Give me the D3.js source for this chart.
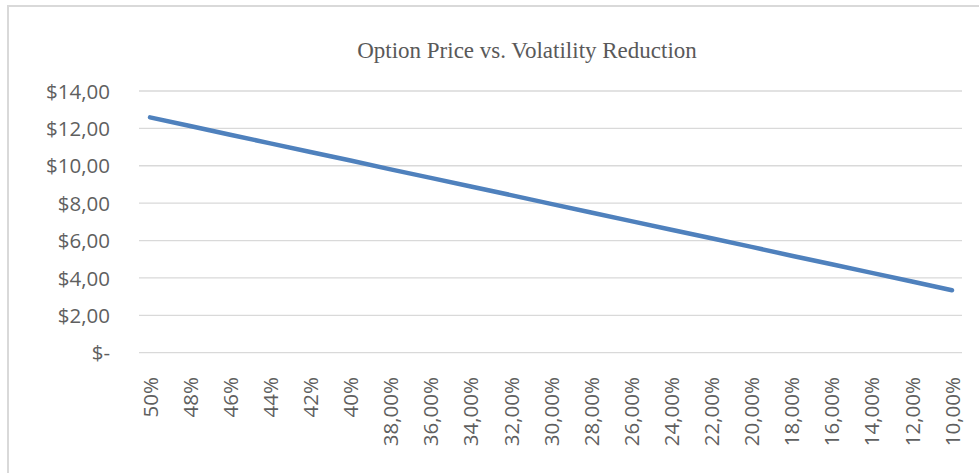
<!DOCTYPE html>
<html>
<head>
<meta charset="utf-8">
<script src="https://cdn.jsdelivr.net/npm/d3@7"></script>
<style>
  html, body { margin: 0; padding: 0; background: #ffffff; }
  svg { display: block; }
</style>
</head>
<body>
<div id="chart"></div>
<script>
const title = "Option Price vs. Volatility Reduction";
const categories = ["50%", "48%", "46%", "44%", "42%", "40%", "38,00%", "36,00%", "34,00%", "32,00%",
  "30,00%", "28,00%", "26,00%", "24,00%", "22,00%", "20,00%", "18,00%", "16,00%", "14,00%", "12,00%", "10,00%"];
const optionPrice = [12.59, 12.13, 11.66, 11.20, 10.74, 10.28, 9.81, 9.35, 8.89, 8.43,
  7.96, 7.50, 7.04, 6.58, 6.12, 5.66, 5.19, 4.73, 4.27, 3.81, 3.34];
const yTicks = [0, 2, 4, 6, 8, 10, 12, 14];
const yTickLabels = ["$-", "$2,00", "$4,00", "$6,00", "$8,00", "$10,00", "$12,00", "$14,00"];

const W = 979, H = 473;
const svg = d3.select("#chart").append("svg").attr("width", W).attr("height", H);

// chart area border
svg.append("rect")
  .attr("x", 8).attr("y", 6).attr("width", 1000).attr("height", 500)
  .attr("fill", "#ffffff").attr("stroke", "#d9d9d9").attr("stroke-width", 2);

const plotLeft = 139, plotRight = 962;
const x = d3.scalePoint().domain(categories).range([150, 952]);
const y = d3.scaleLinear().domain([0, 14]).range([352.7, 91]);

// gridlines
svg.append("g").selectAll("line").data(yTicks).join("line")
  .attr("x1", plotLeft).attr("x2", plotRight)
  .attr("y1", d => y(d)).attr("y2", d => y(d))
  .attr("stroke", "#d9d9d9").attr("stroke-width", 1.3);

// y axis labels
const yAxis = d3.axisLeft(y).tickValues(yTicks)
  .tickFormat((d, i) => yTickLabels[i]).tickSize(0).tickPadding(0);
const gy = svg.append("g").attr("transform", "translate(110,0)").call(yAxis);
gy.select(".domain").remove();
gy.selectAll("text")
  .attr("font-family", "'Open Sans', sans-serif").attr("font-size", 20.5)
  .attr("fill", "#5f5f5f").attr("dy", "0.35em");

// x axis labels
const xAxis = d3.axisBottom(x).tickSize(0).tickPadding(0);
const gx = svg.append("g").attr("transform", "translate(0,377)").call(xAxis);
gx.select(".domain").remove();
gx.selectAll("text")
  .attr("font-family", "'Open Sans', sans-serif").attr("font-size", 20.5)
  .attr("fill", "#5f5f5f")
  .attr("transform", "rotate(-90)")
  .attr("text-anchor", "end")
  .attr("x", 0).attr("y", 0).attr("dy", "0.35em");

// line
const line = d3.line().x((d, i) => x(categories[i])).y(d => y(d));
svg.append("path").datum(optionPrice)
  .attr("d", line)
  .attr("fill", "none").attr("stroke", "#4f81bd").attr("stroke-width", 4.5)
  .attr("stroke-linecap", "round").attr("stroke-linejoin", "round");

// title
svg.append("text")
  .attr("x", 527).attr("y", 57.5)
  .attr("text-anchor", "middle")
  .attr("font-family", "'Liberation Serif', serif").attr("font-size", 23)
  .attr("fill", "#595959")
  .text(title);
</script>
</body>
</html>
